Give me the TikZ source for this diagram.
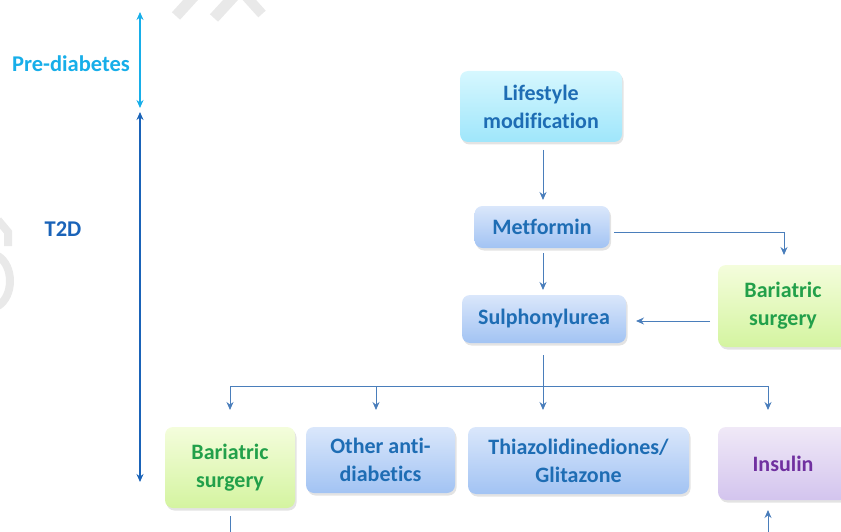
\documentclass[tikz,border=0pt]{standalone}
\usepackage{fontspec}
\setmainfont{Carlito}[Ligatures=NoCommon]
\usetikzlibrary{shadows,arrows.meta,calc}
\definecolor{txtblue}{HTML}{1E6DB4}
\definecolor{prelight}{HTML}{17AEE9}
\definecolor{tdark}{HTML}{1A63B8}
\definecolor{conn}{HTML}{4A7EBB}
\definecolor{txtgreen}{HTML}{22A04A}
\definecolor{txtpurple}{HTML}{7030A0}
\definecolor{wm}{HTML}{E9E9E9}
\definecolor{cyTop}{HTML}{D6F7FE}
\definecolor{cyBot}{HTML}{9FE6FB}
\definecolor{blTop}{HTML}{DAE7FB}
\definecolor{blBot}{HTML}{A2C3F3}
\definecolor{grTop}{HTML}{F4FDDC}
\definecolor{grBot}{HTML}{D4F4A0}
\definecolor{puTop}{HTML}{F0E9F7}
\definecolor{puBot}{HTML}{D3C4EE}
\tikzset{
  box/.style={rounded corners=8pt, inner sep=0pt, align=center,
    font=\fontsize{22}{28}\selectfont\bfseries,
    drop shadow={opacity=0.22, shadow xshift=1.5pt, shadow yshift=-2.5pt}},
  cyanbox/.style={box, top color=cyTop, bottom color=cyBot, text=txtblue},
  bluebox/.style={box, top color=blTop, bottom color=blBot, text=txtblue},
  greenbox/.style={box, top color=grTop, bottom color=grBot, text=txtgreen},
  purplebox/.style={box, top color=puTop, bottom color=puBot, text=txtpurple},
  arr/.style={draw=conn, line width=1pt, -{Stealth[length=8pt,width=7pt]}},
  ln/.style={draw=conn, line width=1pt},
  side/.style={font=\fontsize{22.5}{26}\selectfont\bfseries}
}
\begin{document}
\begin{tikzpicture}[x=1pt,y=-1pt]
\useasboundingbox (0,0) rectangle (841,532);
\clip (0,0) rectangle (841,532);
% faint watermark strokes
\draw[wm, line width=11pt] (196,-6) -- (176,16);
\draw[wm, line width=11pt] (236,-6) -- (214,18);
\draw[wm, line width=10pt] (244,-6) -- (262,14);
\draw[wm, line width=8pt] (-2,220) -- (8,232) -- (8,246);
\draw[wm, line width=8pt] (-2,256) .. controls (14,266) and (14,296) .. (-2,306);

% left scale
\node[side, text=prelight] (pre) at (71,64) {Pre-diabetes};
\node[side, text=tdark] (t2d) at (63,229) {T2D};
\coordinate (p1) at (140,12);
\coordinate (p2) at (140,108);
\coordinate (t1) at (140,112);
\coordinate (t2) at (140,482);
\draw[draw=prelight, line width=1.5pt, {Stealth[length=8pt,width=7pt]}-{Stealth[length=8pt,width=7pt]}] (p1) -- (p2);
\draw[draw=tdark, line width=2pt, {Stealth[length=8pt,width=7pt]}-{Stealth[length=8pt,width=7pt]}] (t1) -- (t2);

% boxes
\node[cyanbox, minimum width=162pt, minimum height=71pt] (life) at (541,106.5) {Lifestyle\\modification};
\node[bluebox, minimum width=135pt, minimum height=42pt] (met) at (542,227) {Metformin};
\node[bluebox, minimum width=164pt, minimum height=48pt] (sul) at (544,319) {Sulphonylurea};
\node[greenbox, minimum width=130pt, minimum height=82pt] (barR) at (783,306) {Bariatric\\surgery};
\node[greenbox, minimum width=130pt, minimum height=81pt] (barL) at (230,467.5) {Bariatric\\surgery};
\node[bluebox, minimum width=149pt, minimum height=66pt] (oth) at (380.5,460) {Other anti-\\diabetics};
\node[bluebox, minimum width=221pt, minimum height=67pt] (thi) at (578.5,460.5) {Thiazolidinediones/\\Glitazone};
\node[purplebox, minimum width=130pt, minimum height=73pt] (ins) at (783,463.5) {Insulin};

% connectors
\coordinate (l1) at (543,150);
\coordinate (l2) at (543,200);
\draw[arr] (l1) -- (l2);
\coordinate (m1) at (614,232);
\coordinate (m2) at (784,232);
\coordinate (m3) at (784,255);
\draw[arr] (m1) -- (m2) -- (m3);
\coordinate (b1) at (710,321);
\coordinate (b2) at (636,321);
\draw[arr] (b1) -- (b2);
\coordinate (s1) at (543,253);
\coordinate (s2) at (543,290);
\draw[arr] (s1) -- (s2);
\coordinate (d1) at (543,355);
\coordinate (d2) at (543,410);
\draw[arr] (d1) -- (d2);
\coordinate (hL) at (230,386);
\coordinate (hO) at (376,386);
\coordinate (hR) at (768,386);
\coordinate (aL) at (230,410);
\coordinate (aO) at (376,410);
\coordinate (aR) at (768,410);
\draw[ln] (hL) -- (hR);
\draw[arr] (hL) -- (aL);
\draw[arr] (hO) -- (aO);
\draw[arr] (hR) -- (aR);
\coordinate (bl1) at (230,516);
\coordinate (bl2) at (230,545);
\draw[ln] (bl1) -- (bl2);
\coordinate (i1) at (768,545);
\coordinate (i2) at (768,510);
\draw[arr] (i1) -- (i2);
\end{tikzpicture}
\end{document}
